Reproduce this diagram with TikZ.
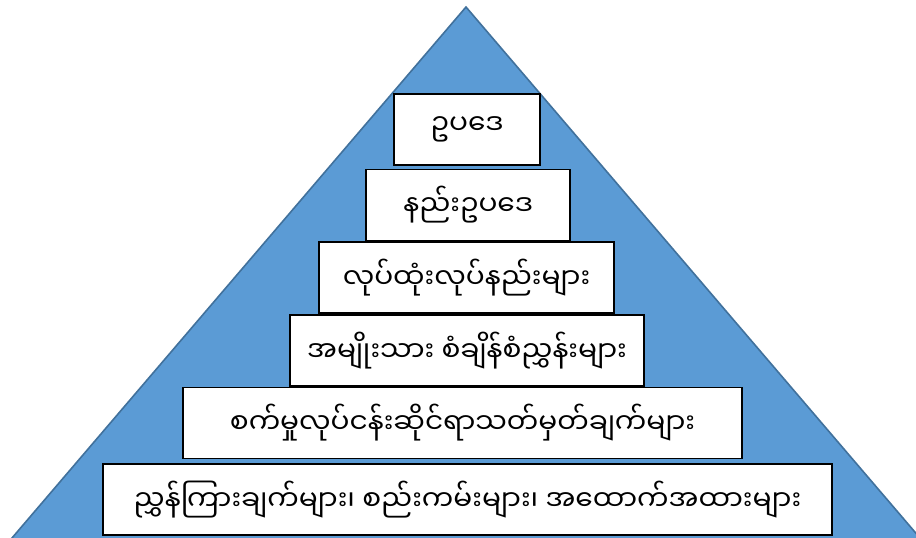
\documentclass[tikz,border=0pt]{standalone}
\usepackage{fontspec}
\newfontfamily\mmfont[Script=Myanmar]{Noto Sans Myanmar UI}
\definecolor{sky}{RGB}{91,155,213}
\definecolor{steel}{RGB}{65,113,156}

\begin{document}
\begin{tikzpicture}[x=0.5pt,y=-0.5pt,
    tier/.style={draw=black,fill=white,line width=0.9pt,minimum height=35.5pt,inner sep=0pt,
      font=\mmfont\fontsize{14}{16}\selectfont}]
  \useasboundingbox (0,0) rectangle (916,537);
  \clip (0,0) rectangle (916,537);
  \coordinate (apex) at (466,7);
  \coordinate (baseL) at (6,545);
  \coordinate (baseR) at (926,545);
  \filldraw[fill=sky,draw=steel,line width=0.8pt] (apex) -- (baseR) -- (baseL) -- cycle;
  \foreach \t/\cx/\cy/\w [count=\i] in {ဥပဒေ/467/129.5/73,နည်းဥပဒေ/468/205/102,
      လုပ်ထုံးလုပ်နည်းများ/466.5/277.5/147.5,အမျိုးသား စံချိန်စံညွှန်းများ/467/350.5/177,
      စက်မှုလုပ်ငန်းဆိုင်ရာသတ်မှတ်ချက်များ/462.5/423/279.5,
      ညွှန်ကြားချက်များ၊ စည်းကမ်းများ၊ အထောက်အထားများ/467.5/499.5/364.5}
    \node[tier,minimum width=\w pt] (tier\i) at (\cx,\cy) {\t};
\end{tikzpicture}
\end{document}
